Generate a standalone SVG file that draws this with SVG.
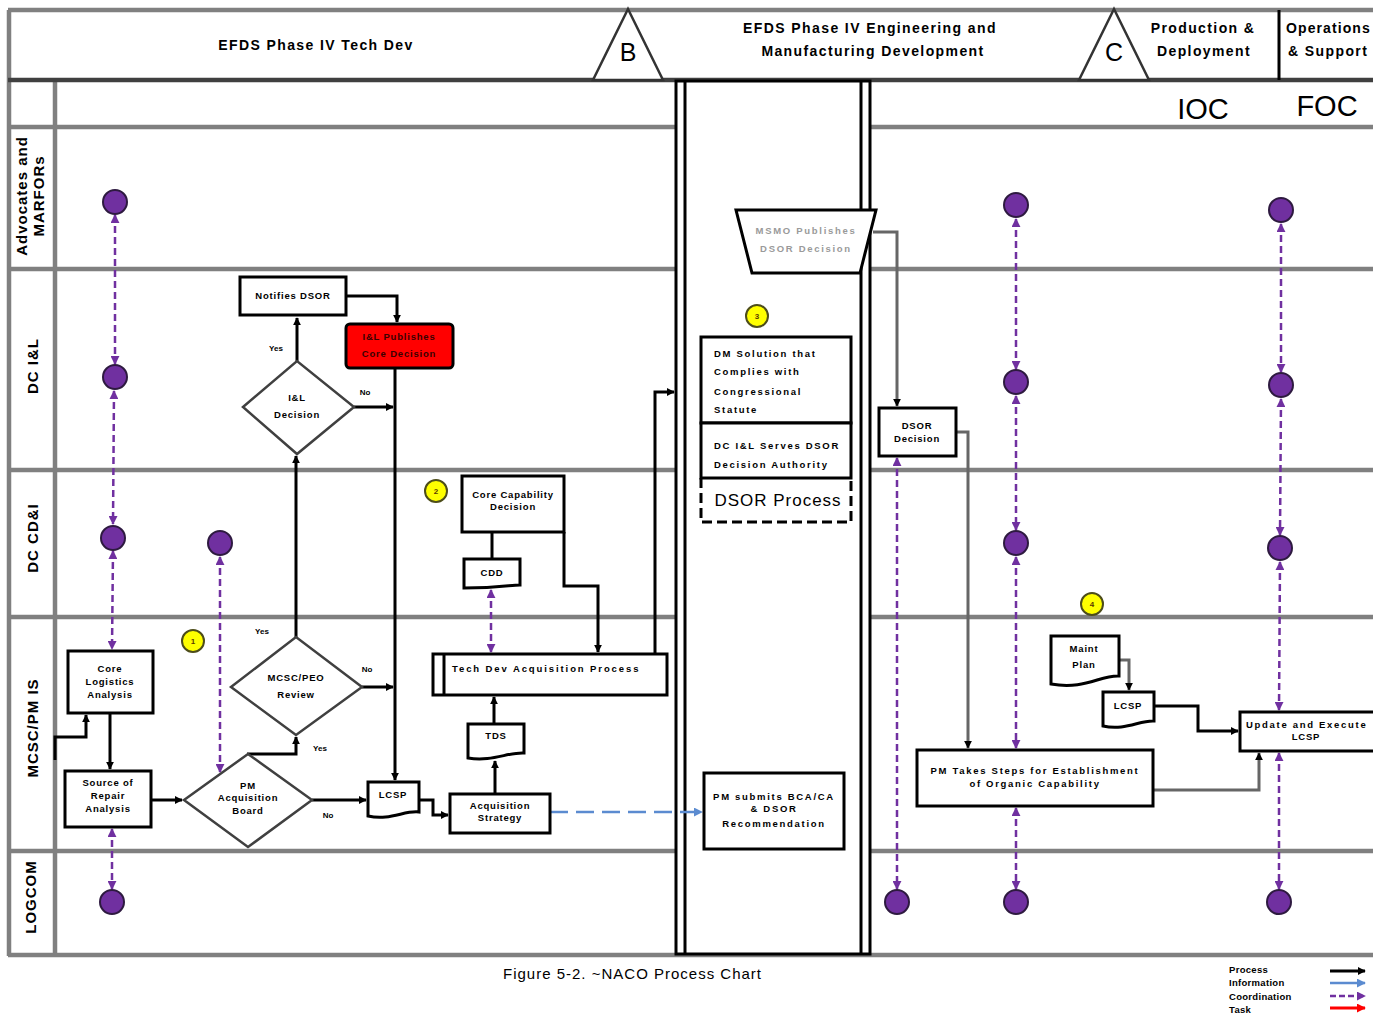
<svg xmlns="http://www.w3.org/2000/svg" width="1373" height="1014" viewBox="0 0 1373 1014">
<defs>
<style>
.t{font-family:"Liberation Sans",Arial,sans-serif;font-size:9.5px;font-weight:bold;fill:#000;text-anchor:middle;letter-spacing:0.8px}
.ts{text-anchor:start}
.w{letter-spacing:1.7px}
.gr{fill:#9a9a9a}
.yn{font-family:"Liberation Sans",Arial,sans-serif;font-size:8px;font-weight:bold;fill:#000;text-anchor:middle}
.hd{font-family:"Liberation Sans",Arial,sans-serif;font-size:14px;font-weight:bold;fill:#000;text-anchor:middle;letter-spacing:1.4px}
.lane{font-family:"Liberation Sans",Arial,sans-serif;font-size:15px;font-weight:bold;fill:#000;text-anchor:middle;letter-spacing:1px}
.big{font-family:"Liberation Sans",Arial,sans-serif;font-size:29px;fill:#000;text-anchor:middle}
.box{fill:#fff;stroke:#000;stroke-width:3}
.dia{fill:#fff;stroke:#404040;stroke-width:2.5}
.ln{fill:none;stroke:#808080;stroke-width:4.5}
.dk{fill:none;stroke:#404040;stroke-width:4.5}
.c{fill:none;stroke:#000;stroke-width:3;marker-end:url(#ab)}
.cn{fill:none;stroke:#000;stroke-width:3}
.cg{fill:none;stroke:#666;stroke-width:3;marker-end:url(#ab)}
.pd{fill:none;stroke:#7030A0;stroke-width:2.5;stroke-dasharray:7 4;marker-start:url(#ap);marker-end:url(#ap)}
.pc{fill:#7030A0;stroke:#2e1a40;stroke-width:2}
.yc{fill:#FFFF00;stroke:#4d4d1a;stroke-width:2}
.yt{font-family:"Liberation Sans",Arial,sans-serif;font-size:8px;font-weight:bold;fill:#5a3a00;text-anchor:middle}
</style>
<marker id="ab" viewBox="0 0 10 10" refX="9" refY="5" markerWidth="8" markerHeight="8" orient="auto-start-reverse" markerUnits="userSpaceOnUse"><path d="M0,0 L10,5 L0,10 z" fill="#000"/></marker>
<marker id="ap" viewBox="0 0 10 10" refX="9" refY="5" markerWidth="9" markerHeight="9" orient="auto-start-reverse" markerUnits="userSpaceOnUse"><path d="M0,0 L10,5 L0,10 z" fill="#7030A0"/></marker>
<marker id="abl" viewBox="0 0 10 10" refX="9" refY="5" markerWidth="9" markerHeight="9" orient="auto-start-reverse" markerUnits="userSpaceOnUse"><path d="M0,0 L10,5 L0,10 z" fill="#5B8BD0"/></marker>
<marker id="ar" viewBox="0 0 10 10" refX="9" refY="5" markerWidth="9" markerHeight="9" orient="auto-start-reverse" markerUnits="userSpaceOnUse"><path d="M0,0 L10,5 L0,10 z" fill="#FF0000"/></marker>
</defs>
<rect width="1373" height="1014" fill="#fff"/>

<g id="frame">
<line class="ln" x1="8" y1="10" x2="1373" y2="10"/>
<line class="ln" x1="9" y1="10" x2="9" y2="956"/>
<line class="ln" x1="55" y1="80" x2="55" y2="956"/>
<line class="dk" x1="8" y1="80" x2="1373" y2="80"/>
<line class="ln" x1="8" y1="127" x2="676" y2="127"/>
<line class="ln" x1="870" y1="127" x2="1373" y2="127"/>
<line class="ln" x1="8" y1="269" x2="676" y2="269"/>
<line class="ln" x1="870" y1="269" x2="1373" y2="269"/>
<line class="ln" x1="8" y1="470" x2="676" y2="470"/>
<line class="ln" x1="870" y1="470" x2="1373" y2="470"/>
<line class="ln" x1="8" y1="617" x2="676" y2="617"/>
<line class="ln" x1="870" y1="617" x2="1373" y2="617"/>
<line class="ln" x1="8" y1="851" x2="676" y2="851"/>
<line class="ln" x1="870" y1="851" x2="1373" y2="851"/>
<line class="ln" x1="8" y1="955" x2="1373" y2="955"/>
<line x1="1279" y1="10" x2="1279" y2="80" stroke="#000" stroke-width="3"/>
<rect x="676" y="81" width="194" height="873" fill="#fff" stroke="#000" stroke-width="3"/>
<line x1="685" y1="81" x2="685" y2="954" stroke="#000" stroke-width="3"/>
<line x1="861" y1="81" x2="861" y2="954" stroke="#000" stroke-width="3"/>
<polygon points="628,9 593,80 663,80" fill="#fff" stroke="#333" stroke-width="2.5"/>
<text x="628" y="61" font-family="Liberation Sans, Arial, sans-serif" font-size="25" text-anchor="middle">B</text>
<polygon points="1114,9 1079,80 1149,80" fill="#fff" stroke="#333" stroke-width="2.5"/>
<text x="1114" y="61" font-family="Liberation Sans, Arial, sans-serif" font-size="25" text-anchor="middle">C</text>
<text class="hd" x="316" y="50">EFDS Phase IV Tech Dev</text>
<text class="hd" x="870" y="33">EFDS Phase  IV Engineering and</text>
<text class="hd" x="873" y="56">Manufacturing  Development</text>
<text class="hd" x="1203" y="33">Production &amp;</text>
<text class="hd" x="1204" y="56">Deployment</text>
<text class="hd" x="1286" y="33" style="text-anchor:start;letter-spacing:1.1px">Operations</text>
<text class="hd" x="1288" y="56" style="text-anchor:start;letter-spacing:1.4px">&amp; Support</text>
<text class="big" x="1203" y="119">IOC</text>
<text class="big" x="1327" y="116">FOC</text>
<text class="lane" transform="translate(27,196) rotate(-90)">Advocates and</text>
<text class="lane" transform="translate(44,196) rotate(-90)">MARFORs</text>
<text class="lane" transform="translate(38,366) rotate(-90)">DC I&amp;L</text>
<text class="lane" transform="translate(38,538) rotate(-90)">DC CD&amp;I</text>
<text class="lane" transform="translate(38,728) rotate(-90)">MCSC/PM IS</text>
<text class="lane" transform="translate(36,897) rotate(-90)">LOGCOM</text>
</g>

<g id="connectors">
<path class="c" d="M55,760 V737 H86 V715"/>
<path class="c" d="M110,713 V769"/>
<path class="c" d="M151,800 H182"/>
<path class="c" d="M312,800 H366"/>
<path class="c" d="M247,754 H296 V737"/>
<path class="c" d="M296,637 V456"/>
<path class="c" d="M362,687 H393"/>
<path class="c" d="M297,361 V318"/>
<path class="c" d="M354,407 H393"/>
<path class="c" d="M346,296 H397 V322"/>
<path class="c" d="M395,368 V780"/>
<path class="c" d="M419,800 H433 V815 H448"/>
<path class="c" d="M495,794 V761"/>
<path class="c" d="M494,724 V697"/>
<path class="c" d="M655,695 V392 H674"/>
<path class="cn" d="M492,532 V559"/>
<path class="c" d="M564,532 V586 H598 V652"/>
<path d="M550,812 H702" fill="none" stroke="#5B8BD0" stroke-width="2.5" stroke-dasharray="18 8" marker-end="url(#abl)"/>
<path class="cg" d="M873,232 H897 V406"/>
<path class="cg" d="M956,432 H968 V748"/>
<path class="cg" d="M1153,790 H1259 V753"/>
<path class="cg" d="M1119,660 H1129 V690"/>
<path class="c" d="M1154,706 H1198 V731 H1238"/>
<path class="pd" d="M115,215 V364"/>
<path class="pd" d="M114,391 L113,524"/>
<path class="pd" d="M113,551 L112,649"/>
<path class="pd" d="M112,829 V889"/>
<path class="pd" d="M220,557 V772"/>
<path class="pd" d="M491,590 V652"/>
<path class="pd" d="M897,458 V889"/>
<path class="pd" d="M1016,219 V369"/>
<path class="pd" d="M1016,396 V530"/>
<path class="pd" d="M1016,557 V748"/>
<path class="pd" d="M1016,808 V889"/>
<path class="pd" d="M1281,224 V372"/>
<path class="pd" d="M1281,399 L1280,535"/>
<path class="pd" d="M1280,562 L1279,710"/>
<path class="pd" d="M1279,753 V889"/>
<text class="yn" x="276" y="351">Yes</text>
<text class="yn" x="365" y="395">No</text>
<text class="yn" x="262" y="634">Yes</text>
<text class="yn" x="367" y="672">No</text>
<text class="yn" x="320" y="751">Yes</text>
<text class="yn" x="328" y="818">No</text>
</g>

<g id="coordination-points">
<circle class="pc" cx="115" cy="202" r="12"/>
<circle class="pc" cx="115" cy="377" r="12"/>
<circle class="pc" cx="113" cy="538" r="12"/>
<circle class="pc" cx="112" cy="902" r="12"/>
<circle class="pc" cx="220" cy="543" r="12"/>
<circle class="pc" cx="897" cy="902" r="12"/>
<circle class="pc" cx="1016" cy="205" r="12"/>
<circle class="pc" cx="1016" cy="382" r="12"/>
<circle class="pc" cx="1016" cy="543" r="12"/>
<circle class="pc" cx="1016" cy="902" r="12"/>
<circle class="pc" cx="1281" cy="210" r="12"/>
<circle class="pc" cx="1281" cy="385" r="12"/>
<circle class="pc" cx="1280" cy="548" r="12"/>
<circle class="pc" cx="1279" cy="902" r="12"/>
</g>

<g id="markers-numbered">
<circle class="yc" cx="193" cy="641" r="11"/><text class="yt" x="193" y="644">1</text>
<circle class="yc" cx="436" cy="491" r="11"/><text class="yt" x="436" y="494">2</text>
<circle class="yc" cx="757" cy="316" r="11"/><text class="yt" x="757" y="319">3</text>
<circle class="yc" cx="1092" cy="604" r="11"/><text class="yt" x="1092" y="607">4</text>
</g>

<g id="core-logistics-analysis">
<rect class="box" x="68" y="651" width="85" height="62"/>
<text class="t" x="110" y="672">Core</text>
<text class="t" x="110" y="685">Logistics</text>
<text class="t" x="110" y="698">Analysis</text>
</g>
<g id="source-of-repair-analysis">
<rect class="box" x="65" y="771" width="86" height="56"/>
<text class="t" x="108" y="786">Source of</text>
<text class="t" x="108" y="799">Repair</text>
<text class="t" x="108" y="812">Analysis</text>
</g>
<g id="pm-acquisition-board">
<polygon class="dia" points="184,800 248,754 312,800 248,847"/>
<text class="t" x="248" y="789">PM</text>
<text class="t" x="248" y="801">Acquisition</text>
<text class="t" x="248" y="814">Board</text>
</g>
<g id="mcsc-peo-review">
<polygon class="dia" points="231,687 296,637 362,687 296,735"/>
<text class="t" x="296" y="681">MCSC/PEO</text>
<text class="t" x="296" y="698">Review</text>
</g>
<g id="il-decision">
<polygon class="dia" points="243,407 297,361 354,407 297,454"/>
<text class="t" x="297" y="401">I&amp;L</text>
<text class="t" x="297" y="418">Decision</text>
</g>
<g id="notifies-dsor">
<rect class="box" x="240" y="277" width="106" height="38"/>
<text class="t" x="293" y="299">Notifies  DSOR</text>
</g>
<g id="il-publishes-core-decision">
<rect x="346" y="324" width="107" height="44" rx="4" fill="#FF0000" stroke="#000" stroke-width="3"/>
<text class="t" x="399" y="340" style="fill:#3a0000">I&amp;L Publishes</text>
<text class="t" x="399" y="357" style="fill:#3a0000">Core Decision</text>
</g>
<g id="lcsp-1">
<path class="box" d="M368,782 H419 V812 C405,810 390,821 368,816 Z"/>
<text class="t" x="393" y="798">LCSP</text>
</g>
<g id="acquisition-strategy">
<rect class="box" x="450" y="794" width="100" height="39"/>
<text class="t" x="500" y="809">Acquisition</text>
<text class="t" x="500" y="821">Strategy</text>
</g>
<g id="tds">
<path class="box" d="M468,724 H524 V753 C508,752 492,762 468,758 Z"/>
<text class="t" x="496" y="739">TDS</text>
</g>
<g id="tech-dev-acquisition-process">
<rect class="box" x="433" y="654" width="234" height="41"/>
<line x1="444" y1="654" x2="444" y2="695" stroke="#000" stroke-width="3"/>
<text class="t ts" x="452" y="672" style="letter-spacing:1.9px">Tech  Dev  Acquisition  Process</text>
</g>
<g id="core-capability-decision">
<rect class="box" x="462" y="476" width="102" height="56"/>
<text class="t" x="513" y="498">Core Capability</text>
<text class="t" x="513" y="510">Decision</text>
</g>
<g id="cdd">
<path class="box" d="M464,559 H520 V585 C510,585 500,588 464,588 Z"/>
<text class="t" x="492" y="576">CDD</text>
</g>
<g id="msmo-publishes-dsor-decision">
<polygon points="736,210 876,210 860,273 752,273" fill="#fff" stroke="#000" stroke-width="3"/>
<text class="t w gr" x="806" y="234">MSMO  Publishes</text>
<text class="t w gr" x="806" y="252">DSOR  Decision</text>
</g>
<g id="dsor-process">
<rect class="box" x="701" y="337" width="150" height="86"/>
<text class="t ts w" x="714" y="357">DM Solution that</text>
<text class="t ts w" x="714" y="375">Complies  with</text>
<text class="t ts w" x="714" y="395">Congressional</text>
<text class="t ts w" x="714" y="413">Statute</text>
<rect class="box" x="701" y="423" width="150" height="55"/>
<text class="t ts w" x="714" y="449">DC I&amp;L  Serves  DSOR</text>
<text class="t ts w" x="714" y="468">Decision  Authority</text>
<path d="M701,478 V522 H851 V478" fill="none" stroke="#000" stroke-width="3" stroke-dasharray="10 5"/>
<text x="778" y="506" font-family="Liberation Sans, Arial, sans-serif" font-size="17" letter-spacing="1" text-anchor="middle">DSOR Process</text>
</g>
<g id="pm-submits-bca">
<rect class="box" x="704" y="773" width="140" height="76"/>
<text class="t w" x="774" y="800">PM submits BCA/CA</text>
<text class="t w" x="774" y="812">&amp; DSOR</text>
<text class="t w" x="774" y="827">Recommendation</text>
</g>
<g id="dsor-decision">
<rect class="box" x="879" y="408" width="77" height="48"/>
<text class="t" x="917" y="429">DSOR</text>
<text class="t" x="917" y="442">Decision</text>
</g>
<g id="pm-takes-steps">
<rect class="box" x="917" y="750" width="236" height="56"/>
<text class="t w" x="1035" y="774">PM Takes  Steps  for Establishment</text>
<text class="t w" x="1035" y="787">of Organic  Capability</text>
</g>
<g id="maint-plan">
<path class="box" d="M1051,636 H1119 V676 C1100,675 1085,690 1051,684 Z"/>
<text class="t" x="1084" y="652">Maint</text>
<text class="t" x="1084" y="668">Plan</text>
</g>
<g id="lcsp-2">
<path class="box" d="M1103,692 H1154 V721 C1140,720 1125,731 1103,726 Z"/>
<text class="t" x="1128" y="709">LCSP</text>
</g>
<g id="update-and-execute-lcsp">
<rect class="box" x="1240" y="712" width="140" height="39"/>
<text class="t ts w" x="1246" y="728">Update and  Execute</text>
<text class="t" x="1306" y="740">LCSP</text>
</g>

<g id="caption">
<text x="503" y="979" font-family="Liberation Sans, Arial, sans-serif" font-size="15" letter-spacing="1">Figure 5-2. ~NACO Process Chart</text>
</g>
<g id="legend">
<text class="t ts" x="1229" y="973" style="letter-spacing:0.3px">Process</text>
<text class="t ts" x="1229" y="986" style="letter-spacing:0.3px">Information</text>
<text class="t ts" x="1229" y="1000" style="letter-spacing:0.3px">Coordination</text>
<text class="t ts" x="1229" y="1013" style="letter-spacing:0.3px">Task</text>
<line x1="1330" y1="971" x2="1365" y2="971" stroke="#000" stroke-width="3" marker-end="url(#ab)"/>
<line x1="1330" y1="983" x2="1365" y2="983" stroke="#5B8BD0" stroke-width="2.5" marker-end="url(#abl)"/>
<line x1="1330" y1="996" x2="1365" y2="996" stroke="#7030A0" stroke-width="2.5" stroke-dasharray="6 3" marker-end="url(#ap)"/>
<line x1="1330" y1="1008" x2="1365" y2="1008" stroke="#FF0000" stroke-width="3" marker-end="url(#ar)"/>
</g>
</svg>
